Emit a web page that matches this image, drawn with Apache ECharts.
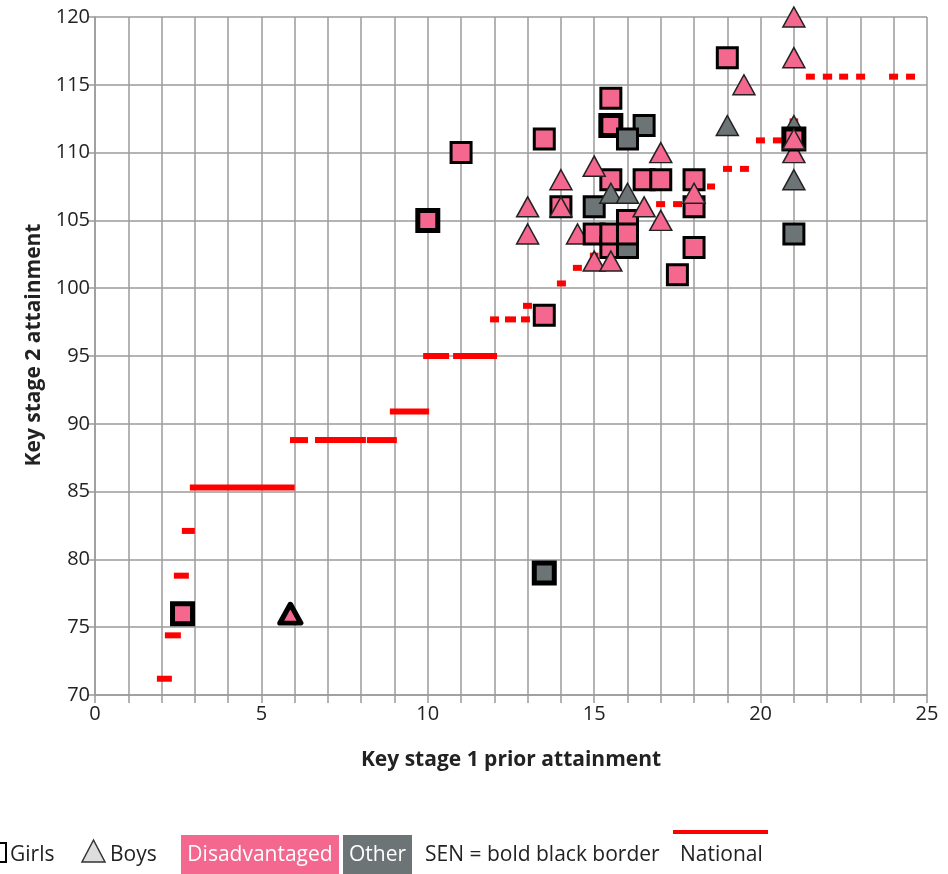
<!DOCTYPE html>
<html>
<head>
<meta charset="utf-8">
<script src="https://cdn.jsdelivr.net/npm/echarts@6/dist/echarts.min.js"></script>
<style>
html,body{margin:0;padding:0;background:#fff;}
#chart{width:948px;height:874px;}
</style>
</head>
<body>
<div id="chart"></div>
<script>
// ---- Data ----
// Pupils: KS1 prior attainment (x), KS2 attainment (y), sex, group, SEN flag
var pupilX   = [21, 21, 14.5,
  2.63, 10, 11, 13.5, 13.5, 13.5, 14, 15, 15, 15.5, 15.5, 15.5, 15.5, 15.5, 16.5, 16, 16, 16, 16, 16.5, 17, 17.5, 18, 18, 18, 19, 21, 21,
  5.87, 13, 13, 14, 14, 15, 15, 15.5, 15.5, 16, 16.5, 17, 17, 18, 19, 19.5, 21, 21, 21, 21];
var pupilY   = [112, 110, 104,
  76, 105, 110, 111, 98, 79, 106, 106, 104, 114, 112, 108, 103, 104, 112, 111, 105, 103, 104, 108, 108, 101, 108, 106, 103, 117, 104, 111,
  76, 106, 104, 108, 106, 109, 102, 107, 102, 107, 106, 110, 105, 107, 112, 115, 120, 117, 108, 111];
var pupilSex = ['B', 'B', 'B',
  'G','G','G','G','G','G','G','G','G','G','G','G','G','G','G','G','G','G','G','G','G','G','G','G','G','G','G','G',
  'B','B','B','B','B','B','B','B','B','B','B','B','B','B','B','B','B','B','B','B'];
var pupilGroup = ['O', 'D', 'D',
  'D','D','D','D','D','O','D','O','D','D','D','D','D','D','O','O','D','O','D','D','D','D','D','D','D','D','O','D',
  'D','D','D','D','D','D','D','O','D','O','D','D','D','D','O','D','D','D','O','D'];
var pupilSEN = [0, 0, 0,
  1,1,0,0,0,1,0,0,0,0,1,0,0,0,0,0,0,0,0,0,0,0,0,0,0,0,0,1,
  1,0,0,0,0,0,0,0,0,0,0,0,0,0,0,0,0,0,0,0];

// National line: segments [start x, end x, y]
var natX1 = [1.86, 2.10, 2.37, 2.61, 2.85, 5.86, 6.61, 8.17, 8.86, 9.86, 10.76, 11.87, 12.32, 12.80, 12.86, 13.88, 14.36, 14.87, 16.86, 17.37, 18.39, 18.87, 19.38, 19.86, 20.37, 20.87, 21.36, 21.87, 22.36, 22.87, 23.86, 24.37];
var natX2 = [2.31, 2.58, 2.82, 3.00, 6.00, 6.40, 8.14, 9.07, 10.04, 10.64, 12.08, 12.14, 12.65, 13.07, 13.13, 14.15, 14.63, 15.13, 17.13, 17.64, 18.63, 19.14, 19.65, 20.13, 20.64, 21.13, 21.63, 22.15, 22.63, 23.14, 24.13, 24.64];
var natY  = [71.2, 74.4, 78.8, 82.1, 85.3, 88.8, 88.8, 88.8, 90.9, 95.0, 95.0, 97.7, 97.7, 97.7, 98.7, 100.35, 101.5, 102.4, 106.2, 106.2, 107.5, 108.8, 108.8, 110.9, 110.9, 112.3, 115.6, 115.6, 115.6, 115.6, 115.6, 115.6];

var xTickLabels = ['0', '5', '10', '15', '20', '25'];

// ---- Styles ----
var PINK = '#F4678F';
var GREY = '#6D7476';
var GRIDC = '#9B9B9B';
var FONT = '"Open Sans", "Noto Sans", sans-serif';

var pupilData = pupilX.map(function (x, i) {
  var isGirl = pupilSex[i] === 'G';
  var sen = pupilSEN[i] === 1;
  var fill = pupilGroup[i] === 'D' ? PINK : GREY;
  var item = { value: [x, pupilY[i]] };
  if (isGirl) {
    item.symbol = 'rect';
    item.symbolSize = 20;
    item.itemStyle = { color: fill, opacity: 1, borderColor: '#000', borderWidth: sen ? 5 : 3 };
  } else {
    item.symbol = 'triangle';
    item.symbolSize = sen ? [21, 19] : [22, 20];
    item.itemStyle = { color: fill, opacity: 1, borderColor: sen ? '#000' : '#222', borderWidth: sen ? 5 : 1.5, borderJoin: sen ? 'round' : 'miter' };
  }
  return item;
});

var natData = natX1.map(function (x1, i) { return [x1, natX2[i], natY[i]]; });

var chart = echarts.init(document.getElementById('chart'), null, { renderer: 'canvas' });
chart.setOption({
  animation: false,
  backgroundColor: '#fff',
  textStyle: { fontFamily: FONT },
  grid: { left: 95, right: 21, top: 17, bottom: 179, containLabel: false },
  xAxis: {
    type: 'value', min: 0, max: 25, interval: 1,
    name: 'Key stage 1 prior attainment', nameLocation: 'middle', nameGap: 55,
    nameTextStyle: { fontFamily: FONT, fontSize: 21, fontWeight: 'bold', color: '#222' },
    axisLine: { show: true, lineStyle: { color: GRIDC, width: 1.5 } },
    axisTick: { show: true, length: 8, lineStyle: { color: GRIDC, width: 1.5 } },
    axisLabel: {
      margin: 9, fontFamily: FONT, fontSize: 20, color: '#222',
      formatter: function (v) { return v % 5 === 0 ? xTickLabels[v / 5] : ''; }
    },
    splitLine: { show: true, lineStyle: { color: GRIDC, width: 1.5 } }
  },
  yAxis: {
    type: 'value', min: 70, max: 120, interval: 5,
    axisLine: { show: true, lineStyle: { color: GRIDC, width: 1.5 } },
    axisTick: { show: true, length: 7, lineStyle: { color: GRIDC, width: 1.5 } },
    axisLabel: { margin: 5, fontFamily: FONT, fontSize: 20, color: '#222' },
    splitLine: { show: true, lineStyle: { color: GRIDC, width: 1.5 } }
  },
  series: [
    {
      type: 'custom', name: 'National', z: 2,
      data: natData,
      encode: { x: [0, 1], y: 2 },
      renderItem: function (params, api) {
        var p1 = api.coord([api.value(0), api.value(2)]);
        var p2 = api.coord([api.value(1), api.value(2)]);
        return { type: 'rect', shape: { x: p1[0], y: p1[1] - 3, width: p2[0] - p1[0], height: 6 }, style: { fill: '#FF0000' } };
      },
      silent: true
    },
    {
      type: 'scatter', name: 'Pupils', z: 3,
      data: pupilData,
      itemStyle: { opacity: 1 },
      emphasis: { disabled: true },
      silent: true
    }
  ],
  graphic: [
    { type: 'text', x: 34, y: 345, rotation: Math.PI / 2,
      style: { text: 'Key stage 2 attainment', font: 'bold 21px ' + FONT, fill: '#222', textAlign: 'center', textVerticalAlign: 'middle' } },
    // legend
    { type: 'rect', shape: { x: -14, y: 843, width: 20, height: 19 }, style: { fill: '#fff', stroke: '#000', lineWidth: 2 } },
    { type: 'text', x: 10, y: 855, style: { text: 'Girls', font: '21px ' + FONT, fill: '#222', textVerticalAlign: 'middle' } },
    { type: 'polygon', shape: { points: [[82, 862], [105, 862], [93.5, 840]] }, style: { fill: '#DDDDDD', stroke: '#333', lineWidth: 1.5 } },
    { type: 'text', x: 110, y: 855, style: { text: 'Boys', font: '21px ' + FONT, fill: '#222', textVerticalAlign: 'middle' } },
    { type: 'rect', shape: { x: 181, y: 835, width: 158, height: 40 }, style: { fill: PINK } },
    { type: 'text', x: 260, y: 855, style: { text: 'Disadvantaged', font: '21px ' + FONT, fill: '#fff', textAlign: 'center', textVerticalAlign: 'middle' } },
    { type: 'rect', shape: { x: 343, y: 835, width: 69, height: 40 }, style: { fill: GREY } },
    { type: 'text', x: 377.5, y: 855, style: { text: 'Other', font: '21px ' + FONT, fill: '#fff', textAlign: 'center', textVerticalAlign: 'middle' } },
    { type: 'text', x: 425, y: 855, style: { text: 'SEN = bold black border', font: '21px ' + FONT, fill: '#222', textVerticalAlign: 'middle' } },
    { type: 'line', shape: { x1: 673, y1: 832, x2: 768, y2: 832 }, style: { stroke: '#FF0000', lineWidth: 4 } },
    { type: 'text', x: 680, y: 855, style: { text: 'National', font: '21px ' + FONT, fill: '#222', textVerticalAlign: 'middle' } }
  ]
});
</script>
</body>
</html>
